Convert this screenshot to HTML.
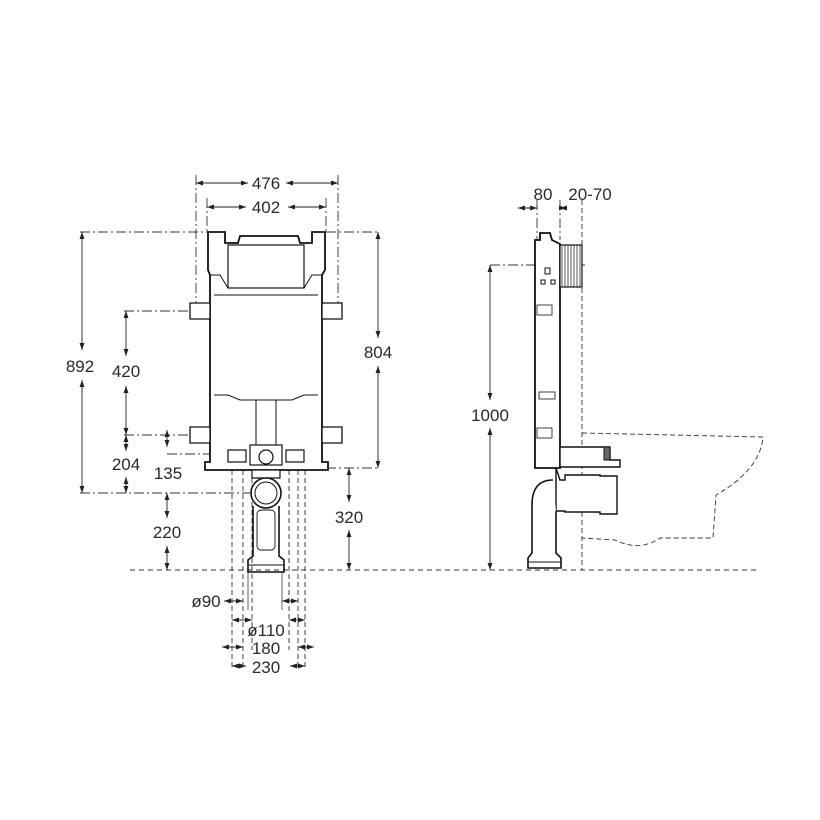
<!DOCTYPE html>
<html><head><meta charset="utf-8"><style>
html,body{margin:0;padding:0;background:#fff}
svg{display:block}
text{font-family:"Liberation Sans",sans-serif;font-size:17px;fill:#2a2a2a;text-anchor:middle}
</style></head><body>
<svg width="820" height="820" viewBox="0 0 820 820" xmlns="http://www.w3.org/2000/svg">
<defs>
<marker id="a" viewBox="0 0 10 10" refX="10" refY="5" markerWidth="8" markerHeight="8" orient="auto-start-reverse"><path d="M0,1.5 L10,5 L0,8.5z" fill="#222"/></marker>
</defs>
<g stroke="#333" stroke-width="0.9" fill="none">
<g stroke-dasharray="10,3,2,3">
<line x1="196" y1="175" x2="196" y2="312"/>
<line x1="207" y1="198" x2="207" y2="232"/>
<line x1="326" y1="198" x2="326" y2="232"/>
<line x1="338" y1="175" x2="338" y2="312"/>
<line x1="80" y1="232" x2="208" y2="232"/>
<line x1="326" y1="232" x2="380" y2="232"/>
<line x1="80" y1="493" x2="250" y2="493"/>
<line x1="124" y1="311" x2="200" y2="311"/>
<line x1="124" y1="435" x2="200" y2="435"/>
<line x1="167" y1="454" x2="210" y2="454"/>
<line x1="326" y1="468" x2="380" y2="468"/>
<line x1="490" y1="265" x2="585" y2="265"/>
<line x1="537" y1="200" x2="537" y2="240"/>
<line x1="560" y1="200" x2="560" y2="240"/>
</g>
<line x1="130" y1="570" x2="756" y2="570" stroke-dasharray="5,4"/>
<line x1="582" y1="200" x2="582" y2="570" stroke-dasharray="5,3"/>
<path d="M582,433 L763,437 Q760,470 716,495 L713,538 L660,538 Q640,552 615,540 L582,538" stroke-dasharray="5,3"/>
<g stroke-dasharray="5,3">
<line x1="243" y1="470" x2="243" y2="670"/>
<line x1="252" y1="470" x2="252" y2="650"/>
<line x1="289" y1="470" x2="289" y2="650"/>
<line x1="298" y1="470" x2="298" y2="670"/>
<line x1="232" y1="470" x2="232" y2="670"/>
<line x1="305" y1="470" x2="305" y2="670"/>
</g>
<g stroke="#555">
<line x1="248" y1="572" x2="248" y2="610"/>
<line x1="282" y1="572" x2="282" y2="610"/>
</g>
<g marker-start="url(#a)" marker-end="url(#a)" stroke="#222">
<line x1="196" y1="183" x2="248" y2="183" marker-end=""/>
<line x1="286" y1="183" x2="338" y2="183" marker-start=""/>
<line x1="207" y1="207" x2="246" y2="207" marker-end=""/>
<line x1="288" y1="207" x2="326" y2="207" marker-start=""/>
<line x1="82" y1="232" x2="82" y2="350" marker-end=""/>
<line x1="82" y1="380" x2="82" y2="493" marker-start=""/>
<line x1="126" y1="311" x2="126" y2="356" marker-end=""/>
<line x1="126" y1="386" x2="126" y2="435" marker-start=""/>
<line x1="126" y1="435" x2="126" y2="451" marker-end=""/>
<line x1="126" y1="477" x2="126" y2="493" marker-start=""/>
<line x1="167" y1="493" x2="167" y2="518" marker-end=""/>
<line x1="167" y1="546" x2="167" y2="570" marker-start=""/>
<line x1="167" y1="430" x2="167" y2="447" marker-start=""/>
<line x1="378" y1="232" x2="378" y2="338" marker-end=""/>
<line x1="378" y1="366" x2="378" y2="468" marker-start=""/>
<line x1="349" y1="468" x2="349" y2="502" marker-end=""/>
<line x1="349" y1="530" x2="349" y2="570" marker-start=""/>
<line x1="490" y1="265" x2="490" y2="400" marker-end=""/>
<line x1="490" y1="428" x2="490" y2="570" marker-start=""/>
<line x1="518" y1="208" x2="537" y2="208" marker-start=""/>
<line x1="560" y1="208" x2="566" y2="208" marker-end=""/>
<line x1="224" y1="601" x2="243" y2="601" marker-start=""/>
<line x1="298" y1="601" x2="282" y2="601" marker-start=""/>
<line x1="232" y1="620" x2="252" y2="620" marker-start=""/>
<line x1="305" y1="620" x2="289" y2="620" marker-start=""/>
<line x1="222" y1="647" x2="243" y2="647" marker-start=""/>
<line x1="314" y1="647" x2="298" y2="647" marker-start=""/>
<line x1="232" y1="666" x2="246" y2="666"/>
<line x1="290" y1="666" x2="305" y2="666"/>
</g>
</g>
<g stroke="#111" stroke-width="1.8" fill="#fff">
<path d="M208,245 L208,232 L225,232 L225,243 L238,243 L240,236 L298,236 L300,243 L312,243 L312,232 L325,232 L325,270 L322,275 L322,462 L328,462 L328,470 L205,470 L205,462 L210,462 L210,275 L208,270 Z"/>
<rect x="228" y="245" width="76" height="43" stroke-width="1.2"/>
<path d="M210,275 L220,275 L228,288 L304,288 L312,275 L322,275" stroke-width="1" fill="none"/>
<line x1="214" y1="295" x2="318" y2="295" stroke-width="1"/>
<path d="M214,395 L228,395 L240,400 L292,400 L304,395 L318,395" stroke-width="1" fill="none"/>
<rect x="256" y="400" width="20" height="45" stroke-width="1"/>
<rect x="250" y="445" width="32" height="20" stroke-width="1.2"/>
<circle cx="266" cy="457" r="7" stroke-width="1.2"/>
<rect x="228" y="450" width="18" height="12" stroke-width="1.2"/>
<rect x="286" y="450" width="18" height="12" stroke-width="1.2"/>
<path d="M190,303 L210,303 L210,319 L190,319 Z M322,303 L342,303 L342,319 L322,319 Z M190,427 L210,427 L210,443 L190,443 Z M322,427 L342,427 L342,443 L322,443 Z" stroke-width="1.3"/>
<path d="M252,470 L280,470 L280,478 L252,478 Z" stroke-width="1.2"/>
<circle cx="266" cy="493" r="15" stroke-width="1.6"/>
<circle cx="266" cy="493" r="11" stroke-width="1"/>
<path d="M253,506 L253,556 L248,560 L248,572 L284,572 L284,560 L279,556 L279,506" stroke-width="1.6" fill="none"/>
<rect x="257" y="510" width="18" height="40" rx="4" stroke-width="0.9"/>
<line x1="249" y1="565" x2="283" y2="565" stroke-width="1"/>
</g>
<g stroke="#111" stroke-width="1.8" fill="#fff">
<path d="M535,240 L540,240 L540,233 L550,233 L552,240 L560,244 L560,468 L535,468 Z"/>
<rect x="560" y="245" width="22" height="42" stroke-width="1.2"/>
<path d="M562,245 v42 M565,245 v42 M568,245 v42 M571,245 v42 M574,245 v42 M577,245 v42 M580,245 v42" stroke-width="0.7"/>
<rect x="545" y="268" width="5" height="6" stroke-width="1"/>
<rect x="541" y="280" width="4" height="4" stroke-width="1"/><rect x="551" y="280" width="4" height="4" stroke-width="1"/>
<rect x="537" y="305" width="15" height="10" stroke-width="0.8"/>
<rect x="539" y="392" width="16" height="7" stroke-width="0.8"/>
<rect x="537" y="428" width="15" height="10" stroke-width="0.8"/>
<path d="M560,447 L610,447 L610,460 L620,460 L620,467 L560,467 Z" stroke-width="1.4"/>
<rect x="604" y="447" width="6" height="13" fill="#666" stroke-width="1"/>
<path d="M556,468 L560,480 L565,480 L565,475 L600,475 L600,476 L617,476 L617,514 L600,514 L600,512 L565,512 L565,511 L556,511 Z" stroke-width="1.4"/>
<path d="M553,480 Q532,480 532,505 L532,553 L528,558 L528,568 L561,568 L561,558 L556,553 L556,511" stroke-width="1.6" fill="#fff"/>
<line x1="528" y1="562" x2="561" y2="562" stroke-width="1"/>
</g>
<text x="266" y="189">476</text>
<text x="266" y="213">402</text>
<text x="80" y="372">892</text>
<text x="126" y="377">420</text>
<text x="126" y="470">204</text>
<text x="168" y="479">135</text>
<text x="167" y="538">220</text>
<text x="378" y="358">804</text>
<text x="349" y="523">320</text>
<text x="490" y="421">1000</text>
<text x="543" y="200">80</text>
<text x="590" y="200">20-70</text>
<text x="206" y="607">ø90</text>
<text x="266" y="636">ø110</text>
<text x="266" y="654">180</text>
<text x="266" y="673">230</text>
</svg>
</body></html>
